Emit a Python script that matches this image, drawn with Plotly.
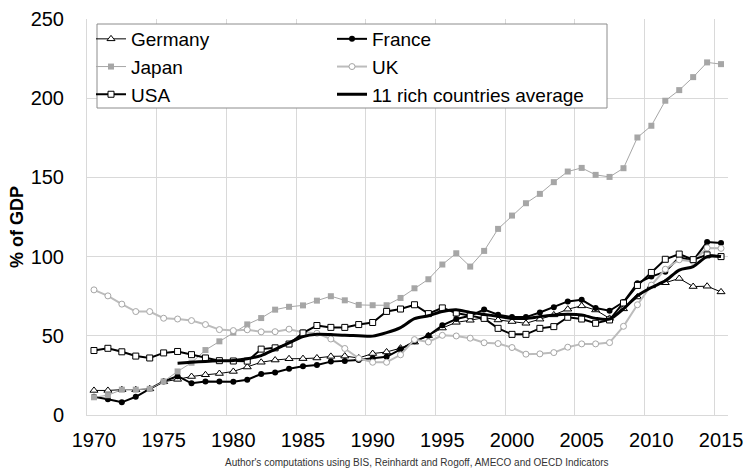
import plotly.graph_objects as go

years = list(range(1970, 2016))

germany = [15.5, 15.5, 16, 16, 16.5, 21, 22.5, 24.3, 25.4, 26.2,
           27.5, 30.3, 33.3, 34.7, 35.5, 35.6, 36, 37, 37.2, 36,
           38.8, 39.8, 42.2, 46, 50.1, 54.9, 58.5, 59.8, 61.5, 60,
           59, 57.9, 60.5, 63.2, 66.8, 68.9, 66.3, 61, 67, 74.5,
           81.5, 83.5, 86.2, 81.1, 81.3, 77.7]

france = [11.5, 10, 8, 11.5, 16.5, 21.2, 24.5, 20, 21.2, 21.2,
          21, 22.3, 25.9, 26.8, 29.2, 30.8, 31.6, 33.7, 34.1, 34.7,
          35.9, 36.7, 41.5, 46.5, 50.1, 56.6, 60.6, 62.7, 66.6, 63.3,
          61.8, 61.8, 64.7, 68.1, 71.7, 72.7, 67.5, 65.8, 71.3, 83.2,
          87.4, 90.5, 99.5, 97.5, 109.2, 108.6]

japan = [11.2, 12.5, 16, 16, 16.5, 21.2, 27.5, 33, 41, 46.5,
         52, 57.2, 61.2, 66.5, 68.3, 69.2, 72.2, 75, 72.4, 69.5,
         69.3, 69.3, 73.9, 80, 85.7, 95, 102.1, 93.7, 103.6, 117.5,
         125.9, 133.7, 139.6, 147, 153.7, 156, 151.6, 150.3, 155.8, 175.2,
         182.6, 198.4, 205.1, 213.3, 222.6, 221.5]

uk = [79, 75.2, 70, 65.3, 65.3, 61.1, 60.6, 59.6, 57.1, 53.9,
      53.3, 53.8, 52.5, 52.6, 54.2, 52.2, 51.6, 48, 42, 35.8,
      33.3, 33.3, 38, 47.6, 46.1, 50.3, 49.9, 48.5, 45.6, 45.1,
      42.6, 38.4, 38.6, 39.4, 42.8, 44.9, 44.9, 45.7, 56, 69.6,
      82, 92, 98, 97, 105.5, 105.2]

usa = [40.7, 42.1, 39.9, 37.2, 36, 39.2, 40.1, 38.1, 36, 34.3,
       34.1, 34, 41.6, 42.4, 44.8, 51.8, 56.5, 55.3, 55.3, 57.1,
       58.4, 65.4, 66.9, 69.6, 64, 67.6, 64.4, 62.7, 61, 54.7,
       50.9, 50.9, 54.7, 55.8, 61.7, 60.6, 57.9, 60, 70.7, 81.8,
       90, 98.3, 101.6, 98.1, 101.1, 100]

avg_years = list(range(1976, 2016))
average = [32.7, 33.3, 33.8, 34.2, 34.4, 35.5, 37.5, 41.5, 45.5, 49.5,
           51, 50.8, 50.3, 50.1, 49.8, 52, 55.2, 60.8, 62.7, 65.4,
           66.4, 64.8, 63.5, 62.3, 61, 61, 62.1, 63.2, 63.6, 63.2,
           61, 60.5, 67, 75.3, 80.5, 84.7, 91.5, 93.7, 100, 100]

x_ticks = list(range(1970, 2016, 5))
y_ticks = [0, 50, 100, 150, 200, 250]

# plot area in pixels
L, R, T, B = 87, 728, 19, 415
W, H = 747, 473
PW, PH = R - L, B - T


def px(xp):
    return (xp - L) / PW


def py(yp):
    return (B - yp) / PH


FONT = "Liberation Sans, Arial, sans-serif"

fig = go.Figure()
fig.add_trace(go.Scatter(
    x=years, y=germany, name="Germany", mode="lines+markers", legend="legend",
    line=dict(color="black", width=1),
    marker=dict(symbol="triangle-up", size=7, color="white",
                line=dict(color="black", width=1))))
fig.add_trace(go.Scatter(
    x=years, y=france, name="France", mode="lines+markers", legend="legend2",
    line=dict(color="black", width=2),
    marker=dict(symbol="circle", size=6, color="black")))
fig.add_trace(go.Scatter(
    x=years, y=japan, name="Japan", mode="lines+markers", legend="legend",
    line=dict(color="#a6a6a6", width=1),
    marker=dict(symbol="square", size=6, color="#a6a6a6")))
fig.add_trace(go.Scatter(
    x=years, y=uk, name="UK", mode="lines+markers", legend="legend2",
    line=dict(color="#bcbcbc", width=2),
    marker=dict(symbol="circle", size=6, color="white",
                line=dict(color="#a6a6a6", width=1))))
fig.add_trace(go.Scatter(
    x=years, y=usa, name="USA", mode="lines+markers", legend="legend",
    line=dict(color="black", width=2),
    marker=dict(symbol="square", size=6, color="white",
                line=dict(color="black", width=1))))
fig.add_trace(go.Scatter(
    x=avg_years, y=average, name="11 rich countries average", mode="lines",
    legend="legend2",
    line=dict(color="black", width=3, shape="spline", smoothing=0.8)))

legend_common = dict(
    orientation="v", xanchor="left", yanchor="top",
    bgcolor="rgba(0,0,0,0)", borderwidth=0,
    font=dict(size=19, family=FONT, color="black"),
    traceorder="normal", itemwidth=30, tracegroupgap=0)

fig.update_layout(
    width=W, height=H,
    margin=dict(l=L, r=W - R, t=T, b=H - B),
    paper_bgcolor="white", plot_bgcolor="white",
    font=dict(family=FONT, color="black"),
    showlegend=True,
    legend=dict(x=px(91), y=py(20), **legend_common),
    legend2=dict(x=px(332), y=py(20), **legend_common),
    xaxis=dict(
        range=[1969.5, 2015.5], tickmode="array", tickvals=x_ticks,
        ticktext=[str(v) for v in x_ticks], showgrid=False,
        showline=True, linecolor="#d9d9d9", linewidth=1,
        ticks="", ticklabelstandoff=7, automargin=False,
        tickfont=dict(size=20),
        minor=dict(tickmode="array",
                   tickvals=[v - 0.5 for v in x_ticks],
                   showgrid=True, gridcolor="#d9d9d9", gridwidth=1, ticks=""),
        zeroline=False),
    yaxis=dict(
        range=[0, 250], tickmode="array", tickvals=y_ticks,
        showgrid=True, gridcolor="#d9d9d9", gridwidth=1,
        showline=True, linecolor="#d9d9d9", linewidth=1,
        ticks="", ticklabelstandoff=18, automargin=False,
        tickfont=dict(size=20), zeroline=False),
    shapes=[
        dict(type="rect", xref="paper", yref="paper",
             x0=px(97), x1=px(607), y0=py(108), y1=py(24),
             fillcolor="white", line=dict(color="#8c8c8c", width=1),
             layer="above"),
    ],
    annotations=[
        dict(text="<b>% of GDP</b>", xref="paper", yref="paper",
             x=px(17), y=py(227), textangle=-90, showarrow=False,
             xanchor="center", yanchor="middle",
             font=dict(size=18, color="black")),
        dict(text="Author's computations using BIS, Reinhardt and Rogoff, AMECO and OECD Indicators",
             xref="paper", yref="paper", x=px(417), y=py(463),
             showarrow=False, xanchor="center", yanchor="middle",
             font=dict(size=10, color="#333333")),
    ],
)

fig.write_html("out.html", config={"displayModeBar": False},
               post_script="document.body.style.margin='0';")
